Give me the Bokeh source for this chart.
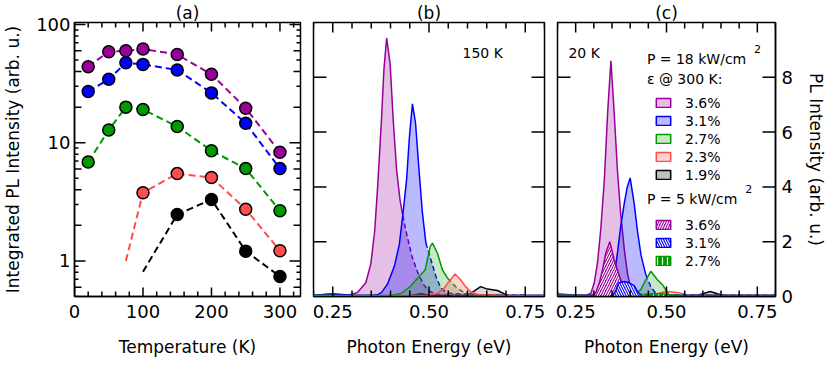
import numpy as np
from bokeh.plotting import figure
from bokeh.layouts import row
from bokeh.models import (FixedTicker, LinearAxis, Label, ColumnDataSource, Legend,
                          LegendItem, NumeralTickFormatter)
from bokeh.embed import file_html
from bokeh.resources import INLINE

FONT = "DejaVu Sans"

# ---------------- Panel (a): integrated PL vs temperature ----------------
temps = [20, 50, 75, 100, 150, 200, 250, 300]
a_purple = [44, 58.9, 60, 62, 55.8, 37.9, 19.6, 8.3]
a_blue = [27.1, 34.4, 47.5, 46, 41.2, 26.4, 14.6, 6.04]
a_green = [6.87, 12.8, 20.0, 19.1, 13.7, 8.56, 6.04, 2.66]
a_red_T = [75, 100, 150, 200, 250, 300]
a_red = [1.0, 3.77, 5.48, 5.07, 2.74, 1.22]
a_black_T = [100, 150, 200, 250, 300]
a_black = [0.81, 2.47, 3.31, 1.21, 0.738]

a_major_ticks = [1, 10, 100]
a_mid_ticks = [0.6, 2, 4, 6, 20, 40, 60]
a_mid_labels = ["6", "2", "4", "6", "2", "4", "6"]
a_minor_ticks = [0.5, 0.7, 0.8, 0.9, 3, 5, 7, 8, 9, 30, 50, 70, 80, 90]
a_x_ticks = [0, 100, 200, 300]
a_x_minor = [20, 40, 60, 80, 120, 140, 160, 180, 220, 240, 260, 280, 320]

# ---------------- Panel (b): spectra at 150 K ----------------
b_purple_E = [0.20, 0.25, 0.28, 0.30, 0.314, 0.336, 0.349, 0.359, 0.367, 0.376, 0.383, 0.390,
              0.399, 0.407, 0.416, 0.425, 0.432, 0.44, 0.455, 0.47, 0.485, 0.50, 0.52, 0.55,
              0.60, 0.70, 0.80]
b_purple_I = [0.05, 0.08, 0.05, 0.08, 0.15, 0.5, 1.2, 2.4, 4.1, 6.3, 8.3, 9.43,
              8.5, 6.45, 4.6, 3.5, 2.95, 2.4, 1.5, 0.9, 0.45, 0.2, 0.08, 0.05,
              0.05, 0.05, 0.05]
b_blue_E = [0.20, 0.25, 0.30, 0.35, 0.366, 0.377, 0.392, 0.41, 0.423, 0.433, 0.442, 0.449,
            0.457, 0.465, 0.474, 0.483, 0.492, 0.505, 0.518, 0.531, 0.548, 0.60, 0.65, 0.70,
            0.75, 0.80]
b_blue_I = [0.05, 0.1, 0.05, 0.05, 0.06, 0.15, 0.45, 1.1, 1.9, 3.1, 4.3, 5.8,
            7.03, 6.33, 4.62, 3.04, 1.95, 1.34, 0.73, 0.3, 0.12, 0.08, 0.06, 0.06,
            0.05, 0.04]
b_green_E = [0.20, 0.30, 0.40, 0.429, 0.451, 0.474, 0.49, 0.503, 0.509, 0.522, 0.535, 0.548,
             0.569, 0.582, 0.60, 0.65, 0.70, 0.80]
b_green_I = [0.05, 0.04, 0.04, 0.12, 0.36, 0.73, 0.97, 1.82, 1.95, 1.58, 0.97, 0.67,
             0.36, 0.22, 0.1, 0.05, 0.04, 0.04]
b_red_E = [0.20, 0.40, 0.50, 0.522, 0.539, 0.552, 0.568, 0.582, 0.595, 0.608, 0.625, 0.70, 0.80]
b_red_I = [0.03, 0.03, 0.05, 0.12, 0.3, 0.55, 0.82, 0.61, 0.36, 0.18, 0.06, 0.04, 0.03]
b_black_E = [0.20, 0.45, 0.48, 0.50, 0.60, 0.617, 0.634, 0.652, 0.678, 0.695, 0.71, 0.80]
b_black_I = [0.02, 0.03, 0.1, 0.04, 0.05, 0.2, 0.36, 0.27, 0.22, 0.1, 0.03, 0.02]

# ---------------- Panel (c): spectra at 20 K ----------------
c_purple_E = [0.20, 0.25, 0.28, 0.292, 0.301, 0.310, 0.319, 0.329, 0.338, 0.347, 0.356, 0.365,
              0.374, 0.384, 0.393, 0.402, 0.41, 0.45, 0.55, 0.80]
c_purple_I = [0.1, 0.05, 0.05, 0.12, 0.49, 1.22, 2.44, 4.27, 6.71, 8.6, 6.71, 4.6,
              3.0, 1.7, 0.8, 0.3, 0.1, 0.05, 0.05, 0.05]
c_blue_E = [0.20, 0.30, 0.338, 0.347, 0.356, 0.365, 0.374, 0.384, 0.392, 0.40, 0.411, 0.42,
            0.43, 0.443, 0.457, 0.47, 0.50, 0.60, 0.80]
c_blue_I = [0.05, 0.05, 0.1, 0.3, 0.73, 1.59, 2.56, 3.42, 4.0, 4.33, 3.4, 2.4,
            1.5, 0.8, 0.35, 0.12, 0.06, 0.05, 0.05]
c_green_E = [0.20, 0.35, 0.40, 0.429, 0.443, 0.457, 0.475, 0.489, 0.498, 0.507, 0.55, 0.80]
c_green_I = [0.05, 0.03, 0.05, 0.24, 0.61, 0.92, 0.61, 0.43, 0.24, 0.06, 0.04, 0.04]
c_red_E = [0.20, 0.45, 0.48, 0.50, 0.53, 0.56, 0.80]
c_red_I = [0.03, 0.04, 0.12, 0.18, 0.15, 0.05, 0.03]
c_black_E = [0.20, 0.58, 0.60, 0.62, 0.64, 0.66, 0.80]
c_black_I = [0.02, 0.03, 0.1, 0.18, 0.1, 0.03, 0.02]
# lower excitation (P = 5 kW/cm2), hatched
h_purple_E = [0.29, 0.305, 0.315, 0.324, 0.333, 0.344, 0.356, 0.365, 0.374, 0.384, 0.393, 0.40]
h_purple_I = [0.0, 0.12, 0.49, 0.98, 1.59, 2.0, 1.34, 0.98, 0.61, 0.3, 0.12, 0.0]
h_blue_E = [0.35, 0.36, 0.368, 0.384, 0.397, 0.411, 0.42, 0.429, 0.44]
h_blue_I = [0.0, 0.2, 0.49, 0.55, 0.5, 0.4, 0.18, 0.06, 0.0]
h_green_E = [0.42, 0.44, 0.46, 0.48, 0.50, 0.52]
h_green_I = [0.0, 0.08, 0.1, 0.1, 0.08, 0.0]

strain_labels = ["3.6%", "3.1%", "2.7%", "2.3%", "1.9%"]
low_labels = ["3.6%", "3.1%", "2.7%"]

spec_x_ticks = [0.25, 0.5, 0.75]
spec_x_minor = [0.2, 0.3, 0.35, 0.4, 0.45, 0.55, 0.6, 0.65, 0.7, 0.8]
spec_y_ticks = [0, 2, 4, 6, 8]

PURPLE = "#990099"
BLUE = "#0000ff"
GREEN = "#009900"
RED = "#ff4d4d"
BLACK = "#000000"
GRAY = "#808080"

FRAME_H = 274
TOP = 18
BOTTOM = 60
NAN = float("nan")


def style_axis(ax, size="18px"):
    ax.major_tick_in = 0
    ax.major_tick_out = 0
    ax.minor_tick_in = 0
    ax.minor_tick_out = 0
    ax.axis_line_width = 1.5
    ax.major_label_text_font = FONT
    ax.major_label_text_font_size = size
    ax.major_label_text_color = "black"
    ax.axis_label_text_font = FONT
    ax.axis_label_text_font_style = "normal"
    ax.axis_label_text_font_size = "17px"
    ax.axis_label_text_color = "black"


def base_fig(fw, left, right, title, **kw):
    p = figure(frame_width=fw, frame_height=FRAME_H, min_border_left=left,
               min_border_right=right, min_border_top=TOP, min_border_bottom=BOTTOM,
               output_backend="svg", toolbar_location=None, title=title, **kw)
    p.title.align = "center"
    p.title.text_font = FONT
    p.title.text_font_size = "17px"
    p.title.text_font_style = "normal"
    p.title.text_color = "black"
    p.title.standoff = 0
    p.xgrid.visible = False
    p.ygrid.visible = False
    p.outline_line_color = "black"
    p.outline_line_width = 1.5
    p.outline_line_alpha = 1
    p.background_fill_color = "white"
    p.border_fill_color = "white"
    return p


def inset(lo, hi, px, npx, log):
    """Data positions px pixels inside each edge of a range spanning npx pixels."""
    if log:
        f = (hi / lo) ** (px / npx)
        return lo * f, hi / f
    d = (hi - lo) * px / npx
    return lo + d, hi - d


class TickSet:
    """Mirror ticks pointing into the frame, drawn as one NaN-broken polyline."""

    def __init__(self):
        self.xs, self.ys = [], []

    def add(self, values, length, axis, rng, npx, log=False):
        lo, hi = rng
        a, b = inset(lo, hi, length, npx, log)
        for v in values:
            for e0, e1 in ((lo, a), (hi, b)):
                if axis == "y":
                    self.xs += [e0, e1, NAN]
                    self.ys += [v, v, NAN]
                else:
                    self.xs += [v, v, NAN]
                    self.ys += [e0, e1, NAN]

    def draw(self, p):
        p.line(x=self.xs, y=self.ys, line_color="black", line_width=1.5)


# ================= Panel (a) =================
A_FW = 226
AXR = (0, 330)
AYR = (0.5, 104)
p1 = base_fig(A_FW, 69, 6, "(a)", x_range=AXR, y_range=AYR, y_axis_type="log")
p1.title.offset = -13
p1.xaxis.ticker = FixedTicker(ticks=a_x_ticks, minor_ticks=[])
p1.yaxis.ticker = FixedTicker(ticks=a_major_ticks, minor_ticks=[])
style_axis(p1.xaxis[0])
style_axis(p1.yaxis[0])
p1.xaxis.axis_label = "Temperature (K)"
p1.yaxis.axis_label = "Integrated PL Intensity (arb. u.)"
p1.xaxis.major_label_standoff = 8
p1.xaxis.axis_label_standoff = 16
p1.yaxis.major_label_standoff = 4
p1.yaxis.axis_label_standoff = 10
p1.yaxis.major_label_overrides = {1: "1", 10: "10", 100: "100"}

for yv, txt in zip(a_mid_ticks, a_mid_labels):
    p1.add_layout(Label(x=AXR[0], y=yv, text=txt, x_offset=-5, text_align="right",
                        text_baseline="middle", text_font=FONT, text_font_size="12px",
                        text_color="black"))

series_a = [
    (temps, a_purple, 0, PURPLE),
    (temps, a_blue, 0, BLUE),
    (temps, a_green, 0, GREEN),
    (a_red_T, a_red, 1, RED),
    (a_black_T, a_black, 1, BLACK),
]
for T, I, start, col in series_a:
    p1.line(T, I, line_color=col, line_width=2, line_dash="7 4")
for T, I, start, col in series_a:
    p1.scatter(T[start:], I[start:], size=12, fill_color=col, line_color="black",
               line_width=1.5)

ta = TickSet()
ta.add(a_major_ticks, 11, "y", AXR, A_FW)
ta.add(a_mid_ticks, 7, "y", AXR, A_FW)
ta.add(a_minor_ticks, 4, "y", AXR, A_FW)
ta.add(a_x_ticks, 9, "x", AYR, FRAME_H, log=True)
ta.add(a_x_minor, 5, "x", AYR, FRAME_H, log=True)
ta.draw(p1)

SXR = (0.2, 0.8)
SYR = (0, 10)


def spec_fig(fw, left, right, title):
    p = base_fig(fw, left, right, title, x_range=SXR, y_range=SYR)
    p.xaxis.ticker = FixedTicker(ticks=spec_x_ticks, minor_ticks=[])
    p.yaxis.ticker = FixedTicker(ticks=spec_y_ticks, minor_ticks=[])
    p.xaxis.formatter = NumeralTickFormatter(format="0.00")
    style_axis(p.xaxis[0])
    p.yaxis.visible = False
    p.xaxis.axis_label = "Photon Energy (eV)"
    p.xaxis.major_label_standoff = 8
    p.xaxis.axis_label_standoff = 16
    return p


def spec_ticks(p, fw):
    t = TickSet()
    t.add(spec_x_ticks, 10, "x", SYR, FRAME_H)
    t.add(spec_x_minor, 6, "x", SYR, FRAME_H)
    t.add([v for v in spec_y_ticks if v > 0], 13, "y", SXR, fw)
    t.draw(p)


def draw_spec(p, E, I, col, alpha, split=None, lw=1.5, fill=None):
    E = np.asarray(E)
    I = np.asarray(I)
    p.varea(x=E, y1=0, y2=I, fill_color=fill or col, fill_alpha=alpha)
    if split is None:
        p.line(E, I, line_color=col, line_width=lw)
    else:
        m1 = E <= split
        m2 = E >= split
        p.line(E[m1], I[m1], line_color=col, line_width=lw)
        p.line(E[m2], I[m2], line_color=col, line_width=lw, line_dash="5 3")


# ================= Panel (b) =================
p2 = spec_fig(231, 7, 6, "(b)")
draw_spec(p2, b_black_E, b_black_I, BLACK, 0.3, fill=GRAY)
draw_spec(p2, b_purple_E, b_purple_I, PURPLE, 0.25, split=0.432)
draw_spec(p2, b_blue_E, b_blue_I, BLUE, 0.27, split=0.492)
draw_spec(p2, b_green_E, b_green_I, GREEN, 0.22, split=0.548)
draw_spec(p2, b_red_E, b_red_I, RED, 0.25)
spec_ticks(p2, 231)
p2.add_layout(Label(x=0.587, y=8.87, text="150 K", text_baseline="middle",
                    text_font=FONT, text_font_size="14px", text_color="black"))

# ================= Panel (c) =================
p3 = spec_fig(218, 7, 50, "(c)")
ax_r3 = LinearAxis(ticker=FixedTicker(ticks=spec_y_ticks, minor_ticks=[]),
                   axis_label="PL Intensity (arb. u.)")
style_axis(ax_r3)
ax_r3.major_label_standoff = 6
ax_r3.axis_label_standoff = 10
p3.add_layout(ax_r3, "right")
draw_spec(p3, c_black_E, c_black_I, BLACK, 0.3, fill=GRAY)
draw_spec(p3, c_red_E, c_red_I, RED, 0.25)
draw_spec(p3, c_purple_E, c_purple_I, PURPLE, 0.25)
draw_spec(p3, c_blue_E, c_blue_I, BLUE, 0.27, split=0.443)
draw_spec(p3, c_green_E, c_green_I, GREEN, 0.22)
for E, I, col, hatch in [(h_purple_E, h_purple_I, PURPLE, "/"),
                         (h_blue_E, h_blue_I, BLUE, "\\"),
                         (h_green_E, h_green_I, GREEN, "|")]:
    p3.varea(x=E, y1=0, y2=I, fill_color=col, fill_alpha=1, hatch_pattern=hatch,
             hatch_color="white", hatch_scale=5, hatch_weight=1.2)
    p3.line(E, I, line_color=col, line_width=1.5)
spec_ticks(p3, 218)

p3.add_layout(Label(x=0.23, y=8.9, text="20 K", text_baseline="middle",
                    text_font=FONT, text_font_size="14px", text_color="black"))
for txt, x, y, fs in [("P = 18 kW/cm", 0.446, 8.67, "14px"),
                      ("2", 0.741, 9.04, "11px"),
                      ("ε @ 300 K:", 0.446, 7.94, "14px"),
                      ("P = 5 kW/cm", 0.446, 3.56, "14px"),
                      ("2", 0.717, 3.91, "11px")]:
    p3.add_layout(Label(x=x, y=y, text=txt, text_baseline="middle",
                        text_font=FONT, text_font_size=fs, text_color="black"))


def swatch(p, fill, alpha, line, hatch=None):
    # legend-only renderer: its data are NaN, so nothing is drawn in the frame
    kw = dict(fill_color=fill, fill_alpha=alpha, line_color=line, line_width=1.5)
    if hatch:
        kw.update(hatch_pattern=hatch, hatch_color="white", hatch_scale=5, hatch_weight=1.2)
    nan = [NAN]
    return p.quad(left="l", right="r", bottom="b", top="t",
                  source=ColumnDataSource(dict(l=nan, r=nan, b=nan, t=nan)), **kw)


sw1 = [swatch(p3, PURPLE, 0.25, PURPLE), swatch(p3, BLUE, 0.27, BLUE),
       swatch(p3, GREEN, 0.22, GREEN), swatch(p3, RED, 0.25, RED),
       swatch(p3, GRAY, 0.5, BLACK)]
sw2 = [swatch(p3, PURPLE, 1, PURPLE, "/"), swatch(p3, BLUE, 1, BLUE, "\\"),
       swatch(p3, GREEN, 1, GREEN, "|")]


def make_legend(items, loc):
    return Legend(items=items, location=loc, orientation="vertical",
                  glyph_width=18, glyph_height=11, label_height=17, spacing=1,
                  padding=0, margin=0, border_line_alpha=0, background_fill_alpha=0,
                  label_text_font=FONT, label_text_font_size="14px", label_standoff=13,
                  label_text_color="black")


leg1 = make_legend([LegendItem(label=l, renderers=[r]) for l, r in zip(strain_labels, sw1)],
                   (97, 113))
leg2 = make_legend([LegendItem(label=l, renderers=[r]) for l, r in zip(low_labels, sw2)],
                   (97, 27))
p3.add_layout(leg1)
p3.add_layout(leg2)

layout = row(p1, p2, p3)
open("out.html", "w").write(file_html(layout, INLINE))
